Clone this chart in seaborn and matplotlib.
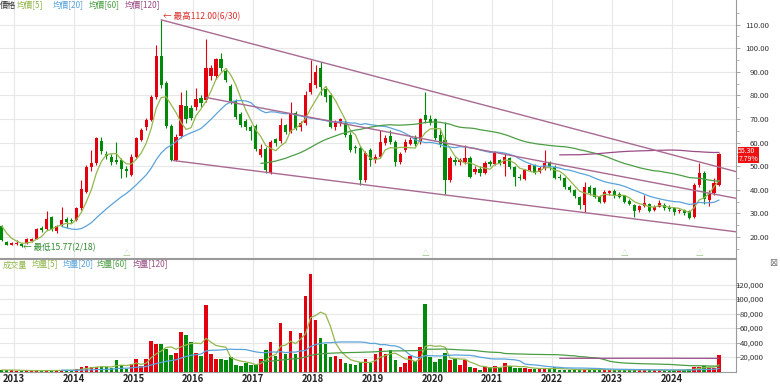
import numpy as np
import pandas as pd
import matplotlib
matplotlib.use("Agg")
import matplotlib.pyplot as plt
import matplotlib.transforms as mtransforms
import seaborn as sns

# monthly candles, Oct 2012 .. Oct 2024 (x = month number, 0 = Jan 2013)
first_month = -3
# closes / volumes of the months before the visible window (only feed the averages)
pre_close = [38.0, 37.0, 35.5, 32.0, 28.5, 23.0, 21.0]
pre_volume = [3000, 2500, 2200, 2000, 1800, 2000, 2200]

opens = [24.7, 18.0, 16.8, 16.9, 17.2, 17.5, 18.5, 19.3, 23.8, 23.2, 28.4, 22.6, 25.1, 27.8, 27.4,
         27.2, 32.2, 39.2, 49.8, 51.2, 60.8, 55.3, 54.0, 52.6, 52.6, 48.7, 46.3,
         54.0, 61.1, 66.5, 69.6, 79.2, 96.7, 85.1, 67.0, 52.6, 62.8, 75.5, 74.8,
         75.2, 78.7, 78.0, 88.0, 88.2, 95.3, 90.4, 84.1, 77.7, 72.0, 69.0, 66.4,
         67.1, 54.8, 57.1, 47.0, 61.4, 60.7, 67.4, 64.6, 72.4, 66.4, 68.1, 81.5,
         84.4, 91.5, 82.9, 80.1, 66.7, 68.1, 68.4, 63.2, 58.0, 57.6, 44.2, 56.8,
         52.5, 54.0, 60.0, 62.7, 60.3, 51.8, 56.8, 59.6, 62.1, 60.3, 71.7, 70.1,
         69.9, 63.0, 61.0, 44.3, 52.5, 51.8, 51.8, 53.6, 47.6, 49.0, 47.0, 51.9,
         51.0, 52.5, 51.0, 53.3, 49.5, 45.6, 44.5, 48.4, 50.5, 47.7, 49.1, 51.2,
         49.8, 45.5, 44.9, 41.3, 39.9, 37.1, 33.6, 41.0, 40.6, 37.2, 35.0, 38.5,
         39.6, 38.2, 37.8, 35.4, 33.6, 31.3, 33.2, 34.0, 31.5, 32.9, 33.6, 32.9,
         32.2, 30.8, 31.5, 30.8, 28.4, 42.0, 47.3, 35.6, 38.8, 42.0]
highs = [25.2, 18.3, 17.8, 18.8, 17.5, 19.5, 19.6, 23.8, 24.5, 30.9, 29.0, 25.2, 32.6, 28.5, 27.9,
         32.8, 44.2, 50.5, 56.9, 62.5, 62.5, 56.5, 55.0, 60.4, 53.5, 50.0, 55.0,
         62.5, 66.0, 70.5, 80.0, 101.4, 112.0, 86.0, 68.0, 63.5, 81.6, 82.3, 76.0,
         83.0, 80.0, 103.8, 93.0, 96.0, 97.8, 91.5, 85.0, 78.5, 72.8, 70.0, 67.5,
         68.0, 59.5, 58.0, 61.0, 62.0, 70.5, 68.0, 77.3, 73.5, 69.0, 82.0, 95.0,
         93.0, 94.0, 84.0, 81.0, 69.5, 70.5, 69.5, 64.5, 59.0, 58.5, 56.5, 57.5,
         55.0, 65.3, 63.0, 65.3, 61.0, 56.0, 61.5, 62.5, 63.0, 70.5, 81.5, 71.5,
         70.5, 66.0, 68.9, 54.5, 54.0, 53.5, 59.0, 54.5, 50.0, 50.0, 52.0, 52.5,
         56.5, 53.0, 55.0, 54.0, 50.0, 46.5, 49.0, 51.0, 51.0, 50.0, 56.7, 52.0,
         50.5, 46.5, 45.5, 42.0, 40.5, 37.5, 43.5, 42.0, 41.0, 38.0, 40.0, 40.0,
         40.5, 39.0, 38.0, 36.0, 34.0, 33.5, 37.8, 34.5, 33.5, 35.5, 34.5, 33.5,
         32.5, 32.0, 32.0, 31.5, 43.0, 51.2, 48.0, 40.0, 44.9, 55.5]
lows = [18.5, 16.5, 16.4, 16.6, 15.77, 17.2, 18.0, 19.0, 22.0, 22.8, 22.5, 21.5, 24.5, 24.0, 26.0,
        26.8, 31.5, 38.5, 48.0, 50.5, 55.0, 53.0, 50.5, 51.0, 45.0, 45.5, 45.8,
        53.5, 60.5, 65.5, 69.0, 78.5, 83.0, 66.0, 52.0, 52.0, 62.0, 68.5, 69.5,
        74.0, 75.0, 77.0, 86.5, 87.0, 90.5, 85.5, 76.5, 70.0, 66.5, 65.5, 61.0,
        56.5, 54.0, 47.0, 46.5, 58.5, 60.0, 63.5, 64.0, 65.5, 65.0, 67.5, 80.5,
        83.0, 80.0, 77.0, 66.0, 65.5, 67.0, 62.5, 56.0, 55.5, 42.0, 43.5, 50.0,
        51.5, 53.5, 59.0, 59.5, 50.0, 51.0, 56.0, 59.0, 58.5, 59.5, 68.5, 67.5,
        61.0, 58.0, 38.4, 43.5, 50.5, 50.5, 51.0, 45.0, 46.5, 46.0, 46.5, 50.0,
        50.5, 50.5, 46.0, 49.0, 41.4, 44.0, 44.0, 48.0, 46.5, 47.0, 48.5, 48.5,
        44.5, 44.0, 40.5, 39.0, 36.5, 32.0, 30.5, 38.0, 36.5, 34.5, 34.5, 38.0,
        36.5, 36.5, 34.5, 33.5, 28.5, 30.5, 32.5, 30.5, 31.0, 32.5, 31.5, 31.0,
        29.5, 30.0, 29.5, 27.5, 28.0, 41.0, 34.0, 33.0, 38.0, 41.5]
closes = [18.7, 16.8, 17.5, 17.4, 16.3, 19.1, 19.3, 23.3, 23.0, 27.8, 23.2, 24.6, 27.2, 26.3, 26.6,
          32.2, 40.2, 49.8, 51.5, 61.8, 56.6, 54.5, 51.9, 51.9, 49.0, 47.8, 54.0,
          61.8, 65.3, 69.6, 79.2, 96.7, 84.5, 67.0, 52.6, 62.5, 75.9, 70.0, 70.5,
          78.3, 76.6, 91.8, 91.8, 95.3, 91.5, 86.5, 77.7, 70.9, 67.3, 66.4, 65.0,
          57.1, 57.1, 48.2, 60.4, 60.0, 67.4, 64.6, 72.4, 66.0, 68.1, 80.1, 85.1,
          90.0, 83.7, 79.4, 66.7, 68.8, 69.8, 63.2, 57.0, 57.6, 44.2, 55.7, 52.5,
          54.0, 60.3, 62.1, 60.3, 51.8, 55.3, 60.3, 61.3, 59.6, 69.9, 69.6, 68.5,
          61.8, 59.6, 44.3, 53.6, 51.8, 52.8, 53.6, 45.4, 49.0, 46.9, 51.2, 51.0,
          55.7, 51.2, 54.0, 49.8, 45.6, 44.9, 48.4, 50.5, 47.3, 49.1, 51.2, 49.1,
          44.9, 44.9, 41.3, 39.9, 37.4, 33.6, 41.0, 38.5, 37.1, 34.9, 39.2, 39.5,
          37.4, 37.1, 35.0, 34.0, 31.2, 33.2, 34.6, 31.2, 32.9, 34.6, 32.2, 31.8,
          30.5, 31.5, 30.1, 28.0, 42.0, 47.0, 36.0, 38.8, 42.7, 55.3]
volumes = [2500, 1800, 1500, 1200, 1000, 1200, 1000, 1300, 1100, 1500, 1300, 1200, 2500, 1500, 1800,
           3000, 6500, 7500, 6500, 6500, 6500, 6000, 5500, 15900, 9600, 4100, 11000,
           17500, 7100, 17500, 42000, 37500, 37500, 30600, 22300, 25100, 54900, 50300, 40200,
           25100, 21400, 91700, 24200, 17500, 17500, 16500, 20200, 9600, 7800, 12000, 9200,
           8300, 17500, 29500, 40500, 21800, 66500, 23700, 56300, 23700, 53500, 104000, 134000,
           71000, 46900, 38600, 19700, 20700, 17900, 12400, 11000, 9200, 13300, 17000, 11500,
           24200, 32500, 24200, 29600, 15900, 5800, 11300, 20700, 13800, 33900, 92600, 19700,
           13300, 17000, 25100, 16500, 17900, 9600, 15600, 5800, 4600, 2300, 5800, 6700,
           7600, 4600, 11300, 7600, 5300, 4600, 5300, 4000, 3500, 3500, 4500, 3500,
           5800, 2500, 2200, 2000, 2500, 3000, 3500, 2500, 2200, 2000, 2500, 2000,
           2200, 1800, 2000, 2200, 2500, 2000, 2200, 1800, 1600, 1800, 1500, 1800,
           2000, 2200, 2500, 2800, 6700, 6700, 7600, 4600, 4600, 22300]

years = list(range(2013, 2025))
price_ticks = [20, 30, 40, 50, 60, 70, 80, 90, 100, 110]
volume_ticks = [20000, 40000, 60000, 80000, 100000, 120000]
ma_windows = [5, 20, 60, 120]
# channel lines: (x start, price start, x end, price end)
trend_lines = [(29.0, 112.0, 144.4, 47.7),
               (38.0, 79.1, 144.4, 36.4),
               (31.4, 52.4, 144.4, 22.2)]
event_months = [22, 82, 122, 137]
last_price = "55.30\n7.79%"

RED = "#e3000f"
GREEN = "#008a0a"
MA_COLORS = ["#93b84c", "#5aa4dc", "#4c9e44", "#9a4c86"]
TREND = "#a86a92"
GRID = "#e7e7e7"
SPINE = "#9a9a9a"

sns.set_theme(style="white")
plt.rcParams["font.family"] = ["Noto Sans CJK TC", "DejaVu Sans"]

x = np.arange(first_month, first_month + len(closes))
n_pre = len(pre_close)
x_all = np.arange(first_month - n_pre, first_month + len(closes))
close_all = pd.Series(pre_close + closes, index=x_all)
vol_all = pd.Series(pre_volume + volumes, index=x_all)

o = np.array(opens)
c = np.array(closes)
up = c >= o
colors = np.where(up, RED, GREEN)

W, H = 780, 384
fig = plt.figure(figsize=(W / 100, H / 100), dpi=100)
ax = fig.add_axes([0, 1 - 258 / H, 736 / W, 258 / H])
axv = fig.add_axes([0, 12.5 / H, 736 / W, 112.5 / H])

xlim = (-3.35, 144.4)
grid_x = [12 * k - 0.54 for k in range(len(years))]

# ---- price panel
ax.set_xlim(*xlim)
ax.set_ylim(11.1, 120.4)
ax.vlines(x, lows, highs, color=colors, lw=0.8, zorder=3)
ax.bar(x, np.maximum(np.abs(c - o), 0.25), bottom=np.minimum(o, c), width=0.64,
       color=colors, linewidth=0, zorder=4)
for w, col in zip(ma_windows, MA_COLORS):
    ma = close_all.rolling(w).mean().loc[first_month:].dropna()
    sns.lineplot(x=ma.index, y=ma.values, ax=ax, color=col, lw=0.9, zorder=5)
for x0, y0, x1, y1 in trend_lines:
    ax.plot([x0, x1], [y0, y1], color=TREND, lw=1.0, zorder=6)

ax.set_xticks(grid_x)
ax.set_yticks(price_ticks)
ax.set_yticks(range(15, 120, 5), minor=True)
ax.grid(True, which="major", color=GRID, lw=0.8)
ax.yaxis.tick_right()
ax.set_yticklabels([f"{v:.2f}" for v in price_ticks])
for lab in ax.get_yticklabels():
    lab.set_ha("right")
ax.tick_params(axis="x", length=0, labelbottom=False)
ax.tick_params(axis="y", which="major", right=True, length=3, width=0.6, color=SPINE,
               labelsize=5.6, labelcolor="#333333", pad=21)
ax.tick_params(axis="y", which="minor", right=True, length=2, width=0.5, color=SPINE)
for s in ["top", "left"]:
    ax.spines[s].set_visible(False)
for s in ["right", "bottom"]:
    ax.spines[s].set_color(SPINE)
    ax.spines[s].set_linewidth(0.8)

ax.text(29.3, 113.6, "← 最高112.00(6/30)", color="#d9302c", fontsize=6.2,
        va="center", ha="left", zorder=7)
ax.text(first_month + 4.2, 15.3, "← 最低15.77(2/18)", color="#2f8a2f", fontsize=6.2,
        va="center", ha="left", zorder=9)
for m in event_months:
    ax.text(m, 11.1, "△", color="#9cc88c", fontsize=5.5, ha="center", va="bottom")

blend = mtransforms.blended_transform_factory(ax.transAxes, ax.transData)
ax.text(1.003, 54.7, last_price, transform=blend, color="white", fontsize=5.0,
        ha="left", va="center", linespacing=0.88,
        bbox=dict(fc="#ee1111", ec="none", pad=0.4), zorder=8, clip_on=False)

# ---- volume panel
axv.set_xlim(*xlim)
axv.set_ylim(0, 155200)
axv.bar(x, volumes, width=0.7, color=colors, linewidth=0, zorder=3)
for w, col in zip(ma_windows, MA_COLORS):
    ma = vol_all.rolling(w).mean().loc[first_month:].dropna()
    sns.lineplot(x=ma.index, y=ma.values, ax=axv, color=col, lw=0.9, zorder=4)

axv.set_xticks(grid_x)
axv.set_xticklabels([str(y) for y in years], fontsize=6.8, fontweight="bold", color="#222222")
axv.set_yticks(volume_ticks)
axv.grid(True, color=GRID, lw=0.8)
axv.yaxis.tick_right()
axv.set_yticklabels([f"{v:,}" for v in volume_ticks])
for lab in axv.get_yticklabels():
    lab.set_ha("right")
axv.tick_params(axis="x", length=0, pad=2)
axv.tick_params(axis="y", right=True, length=3, width=0.6, color=SPINE, labelsize=5.6,
                labelcolor="#333333", pad=17)
axv.spines["left"].set_visible(False)
for s in ["top", "right", "bottom"]:
    axv.spines[s].set_color(SPINE)
    axv.spines[s].set_linewidth(0.8)
axv.set_xlabel("")
axv.set_ylabel("")
ax.set_xlabel("")
ax.set_ylabel("")

# ---- header legends
def header(items, y_px):
    for text, x_px, col in items:
        fig.text(x_px / W, 1 - y_px / H, text, color=col, fontsize=5.9, va="center", ha="left")

header([("價格", 0, "#333333"), ("均價[5]", 17, MA_COLORS[0]), ("均價[20]", 53, MA_COLORS[1]),
        ("均價[60]", 89, MA_COLORS[2]), ("均價[120]", 125, MA_COLORS[3])], 5)
header([("成交量", 3, MA_COLORS[0]), ("均量[5]", 32, MA_COLORS[0]), ("均量[20]", 63, MA_COLORS[1]),
        ("均量[60]", 97, MA_COLORS[2]), ("均量[120]", 133, MA_COLORS[3])], 265)
fig.text(773 / W, 1 - 263 / H, "⊠", color="#777777", fontsize=7, ha="center", va="center",
         family="DejaVu Sans")

fig.savefig("out.png", dpi=100)
